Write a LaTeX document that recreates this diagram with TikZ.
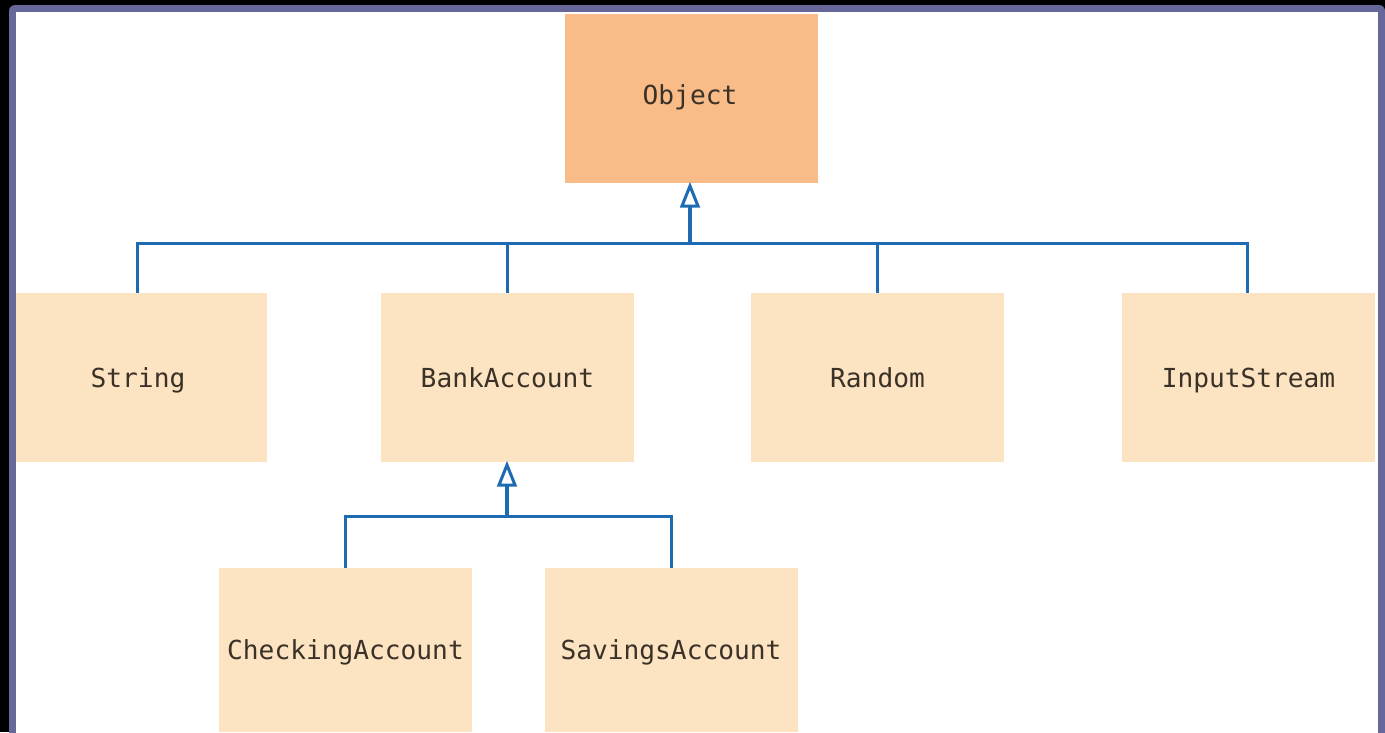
\documentclass[tikz,border=0pt]{standalone}
\usepackage{fontspec}
\setmonofont{DejaVu Sans Mono}
\definecolor{framepurple}{HTML}{67689A}
\definecolor{objfill}{HTML}{F9BB87}
\definecolor{clsfill}{HTML}{FCE3C2}
\definecolor{connblue}{HTML}{1F6BB3}
\definecolor{txt}{HTML}{3A3127}
\tikzset{
  cls/.style={rectangle, fill=clsfill, draw=none, minimum width=253pt, minimum height=169pt, inner sep=0pt,
    font=\ttfamily\fontsize{26.2}{30}\selectfont, text=txt, text height=19pt, text depth=0pt},
  conn/.style={draw=connblue, line width=3pt},
  stem/.style={draw=connblue, line width=4.5pt},
  tip/.style={draw=connblue, fill=white, line width=3pt, line join=miter},
}
\begin{document}
\begin{tikzpicture}[x=1pt,y=-1pt]
\useasboundingbox (0,0) rectangle (1385,732);
\fill[black] (0,0) rectangle (1385,732);
\fill[framepurple, rounded corners=6pt] (9,5) rectangle (1385,760);
\fill[white] (16,12) rectangle (1378,745);
% nodes
\node[cls, fill=objfill] (Object) at (691.5,98.5) {};
\node[font=\ttfamily\fontsize{26.2}{30}\selectfont, text=txt, text height=19pt, text depth=0pt, inner sep=0pt] (ObjectLabel) at (690,94.5) {Object};
\node[cls, minimum width=258pt] (String) at (138,377.5) {String};
\node[cls] (BankAccount) at (507.5,377.5) {BankAccount};
\node[cls] (Random) at (877.5,377.5) {Random};
\node[cls] (InputStream) at (1248.5,377.5) {InputStream};
\node[cls, minimum height=164pt] (CheckingAccount) at (345.5,650) {CheckingAccount};
\node[cls, minimum height=164pt] (SavingsAccount) at (671,650) {SavingsAccount};
% re-cover left frame
\fill[framepurple] (9,12) rectangle (16,732);
\fill[black] (0,0) rectangle (9,732);
% connectors
\coordinate (j1) at (690,243);
\coordinate (j2) at (507,516);
\coordinate (t1) at (690,186);
\coordinate (t2) at (507,465);
\coordinate (b1) at (690,206);
\coordinate (b2) at (507,485);
\draw[conn] ([xshift=-1pt]String.north) |- (j1) -| ([xshift=-1.5pt]InputStream.north);
\draw[conn] ([xshift=-0.5pt]BankAccount.north) -- ([xshift=-0.5pt]BankAccount.north |- j1);
\draw[conn] (Random.north) -- (Random.north |- j1);
\draw[stem] ([yshift=-1.5pt]j1) -- (b1);
\draw[tip] (t1) -- ([xshift=8pt]b1) -- ([xshift=-8pt]b1) -- cycle;
\draw[conn] ([xshift=-0.5pt]CheckingAccount.north) |- (j2) -| (SavingsAccount.north);
\draw[stem] ([yshift=-1.5pt]j2) -- (b2);
\draw[tip] (t2) -- ([xshift=8pt]b2) -- ([xshift=-8pt]b2) -- cycle;
\end{tikzpicture}
\end{document}
